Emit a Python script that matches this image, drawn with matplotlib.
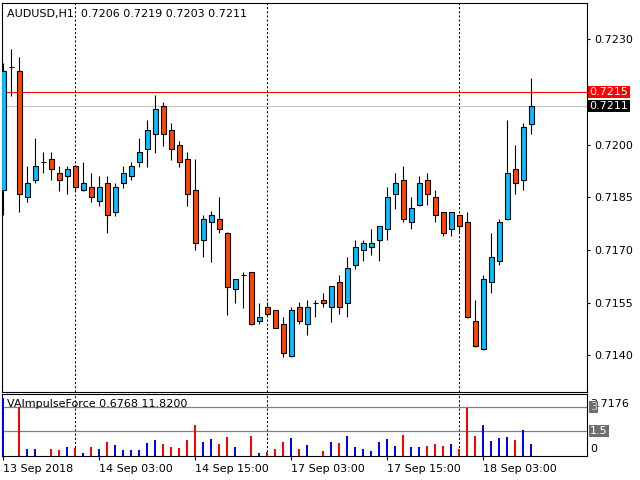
import matplotlib
matplotlib.use("Agg")
import matplotlib.pyplot as plt

# H1 candles, 13 Sep 2018 15:00 ... 18 Sep 09:00
opens = [0.71871, 0.72220, 0.72210, 0.71850, 0.71900, 0.71950, 0.71960, 0.71919, 0.71910, 0.71940,
         0.71870, 0.71880, 0.71839, 0.71890, 0.71808, 0.71890, 0.71910, 0.71950, 0.71989, 0.72030,
         0.72110, 0.72041, 0.71999, 0.71959, 0.71870, 0.71728, 0.71779, 0.71788, 0.71748, 0.71589,
         0.71629, 0.71637, 0.71498, 0.71537, 0.71529, 0.71489, 0.71398, 0.71537, 0.71489, 0.71549,
         0.71557, 0.71537, 0.71609, 0.71549, 0.71657, 0.71700, 0.71708, 0.71728, 0.71759, 0.71859,
         0.71899, 0.71779, 0.71828, 0.71899, 0.71850, 0.71808, 0.71759, 0.71799, 0.71779, 0.71498,
         0.71418, 0.71609, 0.71668, 0.71788, 0.71930, 0.71899, 0.72060]
highs = [0.72234, 0.72272, 0.72251, 0.71940, 0.72018, 0.71980, 0.71979, 0.71940, 0.71940, 0.71942,
         0.71951, 0.71920, 0.71911, 0.71911, 0.71890, 0.71940, 0.71951, 0.72019, 0.72070, 0.72142,
         0.72121, 0.72062, 0.72011, 0.71979, 0.71960, 0.71800, 0.71811, 0.71851, 0.71752, 0.71618,
         0.71637, 0.71638, 0.71549, 0.71552, 0.71530, 0.71509, 0.71537, 0.71552, 0.71558, 0.71558,
         0.71578, 0.71598, 0.71629, 0.71680, 0.71729, 0.71729, 0.71759, 0.71769, 0.71879, 0.71919,
         0.71940, 0.71850, 0.71910, 0.71919, 0.71870, 0.71809, 0.71809, 0.71800, 0.71809, 0.71558,
         0.71629, 0.71748, 0.71789, 0.72070, 0.71999, 0.72061, 0.72190]
lows = [0.71800, 0.72140, 0.71808, 0.71838, 0.71890, 0.71919, 0.71900, 0.71869, 0.71859, 0.71868,
        0.71868, 0.71837, 0.71827, 0.71748, 0.71798, 0.71878, 0.71900, 0.71938, 0.71938, 0.71977,
        0.71997, 0.71957, 0.71938, 0.71827, 0.71699, 0.71679, 0.71667, 0.71748, 0.71515, 0.71549,
        0.71536, 0.71488, 0.71489, 0.71511, 0.71477, 0.71397, 0.71397, 0.71489, 0.71457, 0.71509,
        0.71537, 0.71496, 0.71518, 0.71509, 0.71647, 0.71668, 0.71687, 0.71668, 0.71728, 0.71818,
        0.71779, 0.71759, 0.71827, 0.71828, 0.71779, 0.71739, 0.71739, 0.71748, 0.71508, 0.71425,
        0.71417, 0.71577, 0.71657, 0.71787, 0.71859, 0.71870, 0.72030]
closes = [0.72210, 0.72221, 0.71860, 0.71890, 0.71940, 0.71950, 0.71930, 0.71899, 0.71930, 0.71879,
          0.71890, 0.71850, 0.71880, 0.71799, 0.71880, 0.71919, 0.71940, 0.71979, 0.72041, 0.72101,
          0.72030, 0.71989, 0.71950, 0.71859, 0.71720, 0.71788, 0.71799, 0.71759, 0.71596, 0.71617,
          0.71629, 0.71489, 0.71509, 0.71518, 0.71478, 0.71407, 0.71529, 0.71498, 0.71537, 0.71549,
          0.71549, 0.71597, 0.71537, 0.71648, 0.71708, 0.71720, 0.71720, 0.71768, 0.71850, 0.71890,
          0.71788, 0.71819, 0.71890, 0.71859, 0.71799, 0.71748, 0.71808, 0.71768, 0.71509, 0.71426,
          0.71617, 0.71679, 0.71779, 0.71919, 0.71890, 0.72050, 0.72110]

impulse = [3.52, 0, 3.0, 0.39, 0.39, 0, 0.39, 0.33, 0.51, 0.45,
           0.14, 0.51, 0.39, 0.82, 0.64, 0.33, 0.33, 0.33, 0.76, 0.94,
           0.70, 0.51, 0.45, 0.94, 1.87, 0.82, 1.00, 0.70, 1.13, 0.51,
           0, 1.19, 0.14, 0.20, 0.39, 0.82, 1.07, 0.39, 0.64, 0,
           0.26, 0.82, 0.76, 1.19, 0.51, 0.39, 0.26, 0.82, 1.00, 0.57,
           1.25, 0.51, 0.51, 0.57, 0.70, 0.57, 0.70, 0.39, 2.94, 1.19,
           1.87, 0.88, 1.07, 1.13, 0.94, 1.56, 0.68]

price_ticks = [0.7230, 0.7200, 0.7185, 0.7170, 0.7155, 0.7140]
time_ticks = [0, 12, 24, 36, 48, 60]
time_labels = ["13 Sep 2018", "14 Sep 03:00", "14 Sep 15:00", "17 Sep 03:00", "17 Sep 15:00", "18 Sep 03:00"]
day_breaks = [9, 33, 57]
level_price = 0.7215
bid_price = 0.7211
ind_levels = [3.0, 1.5]

UP, DN = "#00BFFF", "#FF4500"
plt.rcParams["font.family"] = ["DejaVu Sans"]
plt.rcParams["font.size"] = 8

fig = plt.figure(figsize=(6.4, 4.8), dpi=100)
ax = fig.add_axes([2 / 640, 1 - 392 / 480, 585 / 640, 389.5 / 480])
ai = fig.add_axes([2 / 640, 1 - 455.5 / 480, 585 / 640, 61.5 / 480])

n = len(opens)
xs = list(range(n))
for a in (ax, ai):
    a.set_xlim(-0.16, 72.96)
    for s in a.spines.values():
        s.set_linewidth(0.8)
    for d in day_breaks:
        a.axvline(d, color="black", lw=0.75, ls=(0, (2, 2)), zorder=1)

# candles
ax.vlines(xs, lows, highs, color="black", lw=0.8, zorder=2)
bottoms = [min(o, c) for o, c in zip(opens, closes)]
heights = [max(abs(c - o), 0.000012) for o, c in zip(opens, closes)]
cols = [UP if c >= o else DN for o, c in zip(opens, closes)]
ax.bar(xs, heights, bottom=bottoms, width=0.6, color=cols, edgecolor="black",
       linewidth=0.8, zorder=3)

ax.axhline(level_price, color="#FF0000", lw=0.8, zorder=1.5)
ax.axhline(bid_price, color="#C0C0C0", lw=0.8, zorder=1.5)
ax.set_ylim(0.712960, 0.724050)
ax.yaxis.tick_right()
ax.set_yticks(price_ticks)
ax.set_yticklabels([f"{p:.4f}" for p in price_ticks])
ax.tick_params(axis="y", length=2.5, width=0.8, pad=3)
ax.set_xticks([])

lab_kw = dict(transform=ax.get_yaxis_transform(), va="center", ha="left", color="white",
              fontsize=8, clip_on=False)
ax.text(1.004, level_price, "0.7215", bbox=dict(boxstyle="square,pad=0.12", fc="#FF0000", ec="none"), **lab_kw)
ax.text(1.004, bid_price, "0.7211", bbox=dict(boxstyle="square,pad=0.12", fc="black", ec="none"), **lab_kw)

ax.text(0.008, 0.971, "AUDUSD,H1  0.7206 0.7219 0.7203 0.7211", transform=ax.transAxes,
        ha="left", va="center", color="#000000", fontsize=8)

# indicator panel
icols = ["#0000FF" if c >= o else "#FF0000" for o, c in zip(opens, closes)]
ai.bar(xs, impulse, width=0.27, color=icols, zorder=3)
for lv in ind_levels:
    ai.axhline(lv, color="#808080", lw=0.9, zorder=1)
ai.set_ylim(0, 3.78)
ai.set_yticks([])
ai.text(0.008, 0.84, "VAImpulseForce 0.6768 11.8200", transform=ai.transAxes,
        ha="left", va="center", fontsize=8, zorder=5)

tr = ai.get_yaxis_transform()
ai.text(1.005, 3.17, "3.7176", transform=tr, ha="left", va="center", fontsize=8, clip_on=False)
ai.text(1.005, 3.0, "3", transform=tr, ha="left", va="center", fontsize=8, color="#D0D0D0",
        bbox=dict(boxstyle="square,pad=0.1", fc="#6E6E6E", ec="none"), clip_on=False)
ai.text(1.005, 1.5, "1.5", transform=tr, ha="left", va="center", fontsize=8, color="white",
        bbox=dict(boxstyle="square,pad=0.1", fc="#6E6E6E", ec="none"), clip_on=False)
ai.text(1.005, 0.43, "0", transform=tr, ha="left", va="center", fontsize=8, clip_on=False)

ai.set_xticks(time_ticks)
ai.set_xticklabels(time_labels, ha="left")
ai.tick_params(axis="x", length=3, width=0.8, pad=3)

fig.savefig("out.png", dpi=100)
